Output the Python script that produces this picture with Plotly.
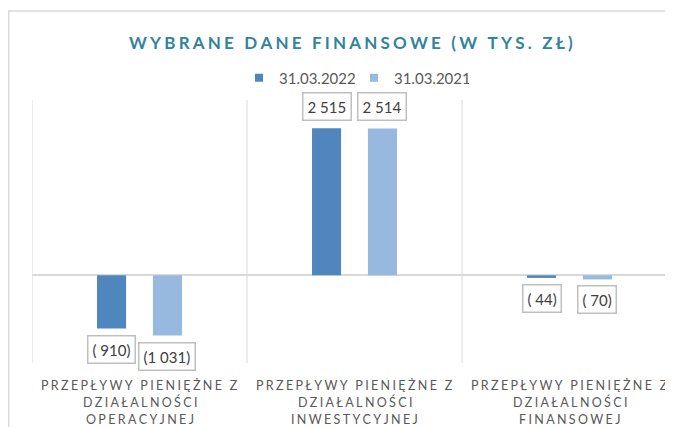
import plotly.graph_objects as go

# ---- data ----
categories = ["operacyjna", "inwestycyjna", "finansowa"]
category_lines = [
    ["PRZEPŁYWY PIENIĘŻNE Z", "DZIAŁALNOŚCI", "OPERACYJNEJ"],
    ["PRZEPŁYWY PIENIĘŻNE Z", "DZIAŁALNOŚCI", "INWESTYCYJNEJ"],
    ["PRZEPŁYWY PIENIĘŻNE Z", "DZIAŁALNOŚCI", "FINANSOWEJ"],
]
series_names = ["31.03.2022", "31.03.2021"]
values_2022 = [-910, 2515, -44]
values_2021 = [-1031, 2514, -70]
title_text = "WYBRANE DANE FINANSOWE (W TYS. ZŁ)"

# ---- style ----
colors = ["#4F86BE", "#97B9E0"]
grid_color = "#D9D9D9"
text_color = "#595959"
FONT = "Lato"
W, H = 673, 427
OFF = 8                      # page body margin
ML, MT = 32 - OFF, 100 - OFF
PLOT_BOTTOM = 363 - OFF
MB = H - PLOT_BOTTOM
pw = W - ML
ph = H - MT - MB
CAT_PX = 215.0
bargap = 0.48
bargroupgap = 0.48


def sx(x):   # screen x -> paper
    return (x - OFF - ML) / pw


def sy(y):   # screen y -> paper
    return 1 - (y - OFF - MT) / ph


def spaced(s, sep):
    out = ""
    for j, ch in enumerate(s):
        out += ch
        if j < len(s) - 1:
            out += sep
    return out


def fmt(v):
    s = f"{abs(v):,}".replace(",", " ")
    if v < 0:
        return "(" + (" " if abs(v) < 1000 else "") + s + ")"
    return s


fig = go.Figure()
idx = list(range(len(categories)))
for name, vals, col in zip(series_names, [values_2022, values_2021], colors):
    fig.add_trace(go.Bar(x=idx, y=vals, name=name, marker_color=col,
                         marker_line_width=0, showlegend=False))
    fig.add_trace(go.Scatter(x=[None], y=[None], mode="markers", name=name,
                             marker=dict(symbol="square", size=8, color=col)))

slot = (1 - bargap) / 2
offsets = [-slot / 2, slot / 2]
annotations = []
for s, vals in enumerate([values_2022, values_2021]):
    for i, v in enumerate(vals):
        annotations.append(dict(
            x=i + offsets[s], y=v, xref="x", yref="y", text=fmt(v),
            showarrow=False, yanchor="bottom" if v >= 0 else "top",
            yshift=7 if v >= 0 else -6,
            font=dict(family=FONT, size=15, color="#404040"),
            bordercolor="#BFBFBF", borderwidth=1.5, borderpad=4,
            bgcolor="white"))

for i, lines in enumerate(category_lines):
    for k, line in enumerate(lines):
        annotations.append(dict(
            x=i, y=0, xref="x", yref="paper",
            text=spaced(line, "\u2009\u200a"),
            showarrow=False, yanchor="middle", yshift=-22 - 17 * k,
            font=dict(family=FONT, size=12.5, color=text_color)))

annotations.append(dict(
    x=sx(351), y=sy(42), xref="paper", yref="paper",
    text="<b>" + spaced(title_text, "\u2009\u200a") + "</b>",
    showarrow=False, xanchor="center", yanchor="middle",
    font=dict(family=FONT, size=17, color="#31849B")))

shapes = []
for b in [-0.5, 0.5, 1.5]:
    shapes.append(dict(type="line", xref="x", yref="paper", x0=b, x1=b,
                       y0=0, y1=1, line=dict(color=grid_color, width=1)))
shapes.append(dict(type="line", xref="paper", yref="paper",
                   x0=sx(8.7), x1=sx(8.7), y0=sy(11), y1=sy(440),
                   line=dict(color=grid_color, width=1.5)))
shapes.append(dict(type="line", xref="paper", yref="paper",
                   x0=sx(8), x1=sx(700), y0=sy(11), y1=sy(11),
                   line=dict(color=grid_color, width=1.5)))

x_right = -0.5 + pw / CAT_PX

fig.update_layout(
    width=W, height=H,
    margin=dict(l=ML, r=0, t=MT, b=MB),
    paper_bgcolor="white", plot_bgcolor="white",
    barmode="group", bargap=bargap, bargroupgap=bargroupgap,
    xaxis=dict(range=[-0.5, x_right], showticklabels=False, showgrid=False,
               zeroline=False, showline=False, ticks=""),
    yaxis=dict(range=[-1500, 3000], showticklabels=False, showgrid=False,
               zeroline=True, zerolinecolor=grid_color, zerolinewidth=1.5,
               showline=False, ticks=""),
    legend=dict(orientation="h", x=sx(354), xanchor="center",
                y=sy(78), yanchor="middle",
                font=dict(family=FONT, size=15, color=text_color),
                itemwidth=30, entrywidth=70, entrywidthmode="pixels",
                bgcolor="rgba(0,0,0,0)"),
    annotations=annotations,
    shapes=shapes,
    showlegend=True,
)

fig.write_html("out.html")
